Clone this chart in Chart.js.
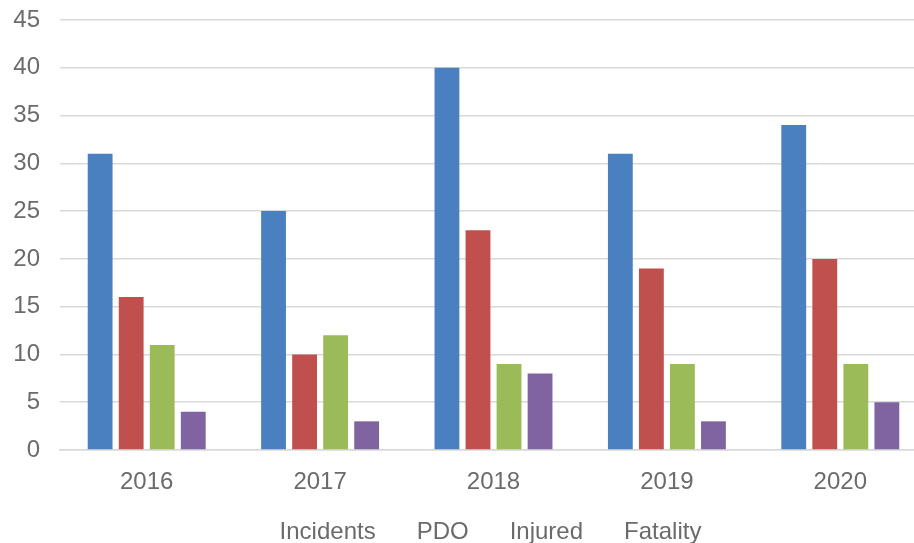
<!DOCTYPE html>
<html>
<head>
<meta charset="utf-8">
<script src="https://cdn.jsdelivr.net/npm/chart.js@4"></script>
<style>
  body { margin: 0; background: #fff; overflow: hidden; }
  #wrap { width: 927px; height: 543px; }
</style>
</head>
<body>
<div id="wrap"><canvas id="chart"></canvas></div>
<script>
// values
const years = ['2016', '2017', '2018', '2019', '2020'];
const incidents = [31, 25, 40, 31, 34];
const pdo = [16, 10, 23, 19, 20];
const injured = [11, 12, 9, 9, 9];
const fatality = [4, 3, 8, 3, 5];

const textColor = '#6b6b6b';
const font = { family: 'Liberation Sans, Arial, sans-serif', size: 24 };

// squeeze the legend box and nudge it right so the text sits as in the original
const legendTweak = {
    id: 'legendTweak',
    afterInit(chart) {
        const leg = chart.legend;
        const origFit = leg.fit;
        leg.fit = function () {
            origFit.call(this);
            this.height = 46;
        };
        const origDraw = leg.draw;
        leg.draw = function () {
            const c = this.ctx;
            c.save();
            c.translate(18, 0);
            origDraw.call(this);
            c.restore();
        };
    }
};

const ctx = document.getElementById('chart').getContext('2d');
window.myChart = new Chart(ctx, {
    type: 'bar',
    data: {
        labels: years,
        datasets: [
            { label: 'Incidents', data: incidents, backgroundColor: '#4a80bf' },
            { label: 'PDO', data: pdo, backgroundColor: '#c0504d' },
            { label: 'Injured', data: injured, backgroundColor: '#9bbb59' },
            { label: 'Fatality', data: fatality, backgroundColor: '#8064a2' }
        ]
    },
    options: {
        responsive: true,
        maintainAspectRatio: false,
        animation: false,
        categoryPercentage: 0.716,
        barPercentage: 0.8,
        layout: { padding: { top: 20, left: 0, right: 0, bottom: 0 } },
        plugins: {
            tooltip: { enabled: false },
            legend: {
                position: 'bottom',
                labels: {
                    boxWidth: 6,
                    padding: 23,
                    color: textColor,
                    font: font,
                    // the original legend shows only the names, no colour keys
                    generateLabels: chart => chart.data.datasets.map((ds, i) => ({
                        text: ds.label,
                        fillStyle: 'rgba(0,0,0,0)',
                        strokeStyle: 'rgba(0,0,0,0)',
                        lineWidth: 0,
                        fontColor: textColor,
                        datasetIndex: i
                    }))
                }
            }
        },
        scales: {
            x: {
                grid: { display: false },
                border: { display: true, color: '#d9d9d9', width: 1.5 },
                ticks: { color: textColor, font: { family: font.family, size: 24, lineHeight: 1 }, padding: 12 },
                afterFit: s => { s.height = 47; }
            },
            y: {
                min: 0,
                max: 45,
                ticks: { stepSize: 5, color: textColor, font: font, padding: 20 },
                grid: { color: '#d9d9d9', lineWidth: 1.5, drawTicks: false },
                border: { display: false },
                afterFit: s => {
                    s.width = 60;
                    s.paddingTop = 0;
                    s.paddingBottom = 0;
                }
            }
        }
    },
    plugins: [legendTweak]
});
</script>
</body>
</html>
